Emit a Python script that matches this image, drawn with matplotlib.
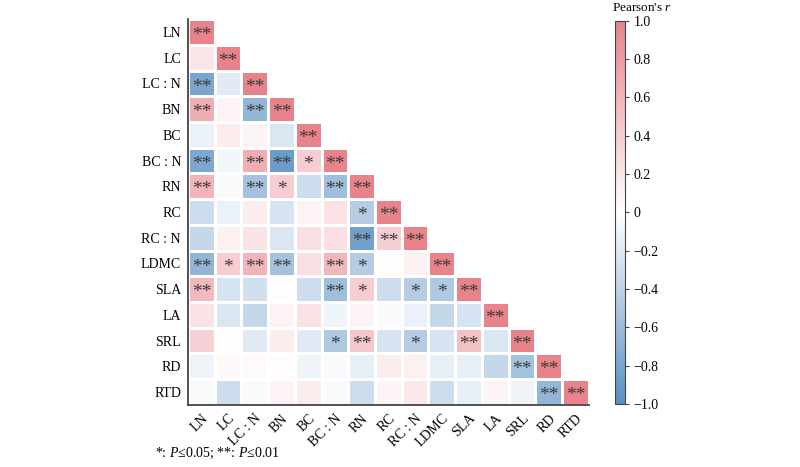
import numpy as np
import matplotlib
matplotlib.use("Agg")
import matplotlib.pyplot as plt
from matplotlib.colors import LinearSegmentedColormap

plt.rcParams['font.family'] = ['Liberation Serif', 'DejaVu Serif']
plt.rcParams['mathtext.fontset'] = 'custom'
plt.rcParams['mathtext.it'] = 'Liberation Serif:italic'
plt.rcParams['mathtext.rm'] = 'Liberation Serif'

labels = ["LN", "LC", "LC : N", "BN", "BC", "BC : N", "RN", "RC", "RC : N",
          "LDMC", "SLA", "LA", "SRL", "RD", "RTD"]

# lower triangle rows
r_rows = [
    [1],
    [0.20, 1],
    [-0.80, -0.18, 1],
    [0.65, 0.10, -0.65, 1],
    [-0.12, 0.15, 0.09, -0.22, 1],
    [-0.78, -0.08, 0.65, -0.88, 0.40, 1],
    [0.60, -0.04, -0.55, 0.40, -0.30, -0.58, 1],
    [-0.30, -0.12, 0.15, -0.25, 0.10, 0.22, -0.45, 1],
    [-0.35, 0.12, 0.22, -0.22, 0.25, 0.25, -0.85, 0.40, 1],
    [-0.65, 0.40, 0.60, -0.55, 0.25, 0.58, -0.45, 0.03, 0.12, 1],
    [0.55, -0.25, -0.28, 0.03, -0.30, -0.58, 0.40, -0.30, -0.45, -0.48, 1],
    [0.22, -0.22, -0.35, 0.10, 0.22, -0.10, 0.10, -0.04, -0.12, -0.35, -0.25, 1],
    [0.38, 0.03, -0.18, 0.15, -0.18, -0.48, 0.45, -0.25, -0.45, -0.25, 0.50, -0.22, 1],
    [-0.10, 0.06, 0.04, 0.03, -0.10, -0.04, -0.15, 0.15, 0.12, -0.15, -0.15, -0.35, -0.55, 1],
    [-0.04, -0.30, -0.04, 0.10, 0.15, -0.04, -0.30, 0.08, 0.18, -0.30, -0.15, 0.08, -0.10, -0.65, 1],
]

# significance marks, same shape
sig_rows = [
    ["**"],
    ["", "**"],
    ["**", "", "**"],
    ["**", "", "**", "**"],
    ["", "", "", "", "**"],
    ["**", "", "**", "**", "*", "**"],
    ["**", "", "**", "*", "", "**", "**"],
    ["", "", "", "", "", "", "*", "**"],
    ["", "", "", "", "", "", "**", "**", "**"],
    ["**", "*", "**", "**", "", "**", "*", "", "", "**"],
    ["**", "", "", "", "", "**", "*", "", "*", "*", "**"],
    ["", "", "", "", "", "", "", "", "", "", "", "**"],
    ["", "", "", "", "", "*", "**", "", "*", "", "**", "", "**"],
    ["", "", "", "", "", "", "", "", "", "", "", "", "**", "**"],
    ["", "", "", "", "", "", "", "", "", "", "", "", "", "**", "**"],
]

n = len(labels)
mat = np.full((n, n), np.nan)
for i, row in enumerate(r_rows):
    mat[i, :len(row)] = row
mat = np.ma.masked_invalid(mat)

cmap = LinearSegmentedColormap.from_list("rb", ["#5a8fc2", "#ffffff", "#e8838b"])

fig = plt.figure(figsize=(8, 4.67), dpi=100)
ax = fig.add_axes([0.235, 0.133, 0.501, 0.826])
mesh = ax.pcolormesh(np.arange(n + 1), np.arange(n + 1), mat, cmap=cmap,
                     vmin=-1, vmax=1, edgecolors="white", linewidth=1.0)
ax.set_xlim(0, n)
ax.set_ylim(n, 0)

for i, row in enumerate(sig_rows):
    for j, s in enumerate(row):
        if s:
            ax.text(j + 0.5, i + 0.64, s, ha="center", va="center",
                    fontsize=14, color="#3a3a3a")

ax.set_xticks(np.arange(n) + 0.5)
ax.set_yticks(np.arange(n) + 0.5)
ax.set_xticklabels(labels, rotation=45, ha="right", rotation_mode="anchor", fontsize=10)
ax.set_yticklabels(labels, fontsize=10)
ax.tick_params(length=0, pad=5)
for side in ["top", "right"]:
    ax.spines[side].set_visible(False)
for side in ["left", "bottom"]:
    ax.spines[side].set_color("#444444")
    ax.spines[side].set_linewidth(1.3)

cax = fig.add_axes([0.769, 0.135, 0.012, 0.821])
cb = fig.colorbar(mesh, cax=cax, ticks=np.linspace(-1, 1, 11))
cb.ax.set_yticklabels(["\u22121.0", "\u22120.8", "\u22120.6", "\u22120.4", "\u22120.2", "0",
                       "0.2", "0.4", "0.6", "0.8", "1.0"], fontsize=10)
cb.ax.tick_params(length=3, width=0.8, color="#444444")
cb.outline.set_edgecolor("#444444")
cb.outline.set_linewidth(0.8)
fig.text(0.803, 0.982, "Pearson's $r$", ha="center", va="center", fontsize=9.5)

fig.text(0.194, 0.012, "*: $P$\u22640.05; **: $P$\u22640.01", ha="left", va="bottom", fontsize=10)

fig.savefig("out.png", dpi=100)
